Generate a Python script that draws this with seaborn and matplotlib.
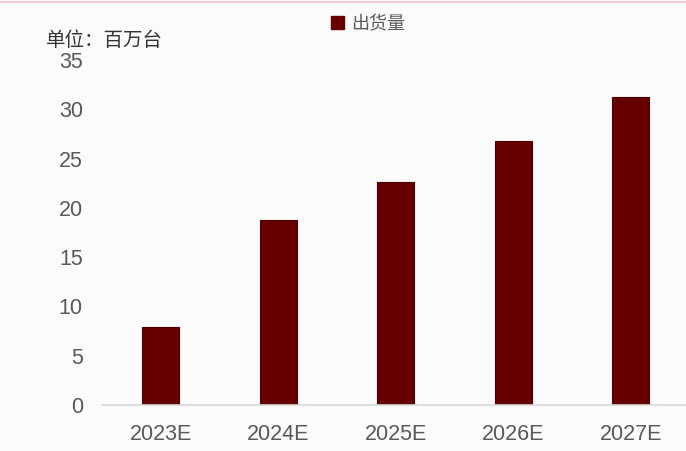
import matplotlib
matplotlib.use("Agg")
import matplotlib.pyplot as plt
from matplotlib.patches import Patch
from matplotlib.lines import Line2D
import seaborn as sns
import pandas as pd

# Shipment forecast (million units)
years = ["2023E", "2024E", "2025E", "2026E", "2027E"]
shipments = [7.9, 18.8, 22.6, 26.8, 31.2]
y_ticks = [0, 5, 10, 15, 20, 25, 30, 35]
series_name = "出货量"
unit_label = "单位：百万台"

sns.set_theme(style="white")
plt.rcParams["font.family"] = ["Liberation Sans", "Noto Sans CJK SC", "DejaVu Sans"]

bg = "#fbfbfb"
bar_color = "#660000"

df = pd.DataFrame({"year": years, "shipments": shipments})

fig = plt.figure(figsize=(6.86, 4.51), dpi=100, facecolor=bg)
ax = fig.add_axes([0.149, 0.102, 0.851, 0.765], facecolor=bg)

sns.barplot(data=df, x="year", y="shipments", color=bar_color, width=0.315,
            saturation=1, edgecolor="#4a0000", linewidth=0.8, ax=ax)

ax.set_xlim(-0.5, 4.47)
ax.set_ylim(0, 35)
ax.set_yticks(y_ticks)
ax.set_xlabel("")
ax.set_ylabel("")

for s in ["top", "right", "left"]:
    ax.spines[s].set_visible(False)
ax.spines["bottom"].set_color("#d9d9d9")
ax.spines["bottom"].set_linewidth(1.2)

ax.tick_params(axis="y", length=0, pad=14, labelsize=15.5, labelcolor="#595959")
ax.tick_params(axis="x", length=0, pad=14, labelsize=15.5, labelcolor="#595959")

# Unit label at the top left
fig.text(0.067, 0.911, unit_label, fontsize=14, color="#333333",
         family=["Noto Sans CJK SC"], va="center", ha="left")

# Legend above the plot
handle = Patch(facecolor=bar_color, edgecolor=bar_color)
leg = fig.legend(handles=[handle], labels=[series_name], loc="center",
                 bbox_to_anchor=(0.537, 0.947), frameon=False,
                 handlelength=0.7, handleheight=0.7, handletextpad=0.4,
                 prop={"family": "Noto Sans CJK SC", "size": 13})
for t in leg.get_texts():
    t.set_color("#595959")

# Thin frame line along the top edge
fig.add_artist(Line2D([0, 1], [0.995, 0.995], transform=fig.transFigure,
                      color="#efc3cf", linewidth=1.2))

fig.savefig("out.png", dpi=100, facecolor=bg)
